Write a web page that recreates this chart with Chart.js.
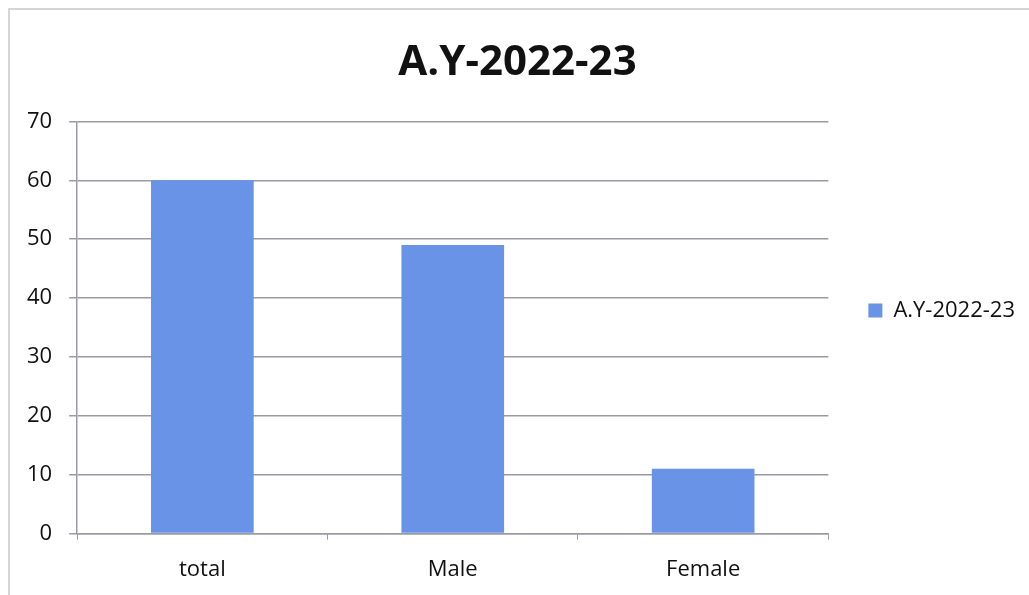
<!DOCTYPE html>
<html>
<head>
<meta charset="utf-8">
<script src="https://cdn.jsdelivr.net/npm/chart.js@4"></script>
<style>
  html, body { margin: 0; padding: 0; background: #ffffff; }
  #wrap { width: 1029px; height: 595px; position: relative; }
  canvas { display: block; }
</style>
</head>
<body>
<div id="wrap"><canvas id="c" width="1029" height="595"></canvas></div>
<script>
const chartTitle = "A.Y-2022-23";
const categories = ["total", "Male", "Female"];
const seriesName = "A.Y-2022-23";
const seriesValues = [60, 49, 11];
const yTicks = [0, 10, 20, 30, 40, 50, 60, 70];

const FONT = '"Open Sans", Lato, sans-serif';

const borderPlugin = {
  id: 'frame',
  beforeDraw(chart) {
    const ctx = chart.ctx;
    ctx.save();
    ctx.fillStyle = '#ffffff';
    ctx.fillRect(0, 0, chart.width, chart.height);
    ctx.strokeStyle = '#c8c8cc';
    ctx.lineWidth = 1.5;
    ctx.beginPath();
    ctx.moveTo(9, chart.height);
    ctx.lineTo(9, 9);
    ctx.lineTo(chart.width, 9);
    ctx.stroke();
    ctx.restore();
  }
};

new Chart(document.getElementById('c'), {
  type: 'bar',
  data: {
    labels: categories,
    datasets: [{
      label: seriesName,
      data: seriesValues,
      backgroundColor: '#6893e6',
      borderWidth: 0,
      barPercentage: 0.41,
      categoryPercentage: 1.0
    }]
  },
  options: {
    responsive: false,
    animation: false,
    devicePixelRatio: 1,
    layout: { padding: { left: 10, right: 4, top: 38, bottom: 12 } },
    plugins: {
      title: {
        display: true,
        text: chartTitle,
        color: '#111111',
        font: { family: FONT, size: 42, weight: 'bold', lineHeight: 1.2 },
        padding: { top: 0, bottom: 33 }
      },
      legend: {
        display: true,
        position: 'right',
        labels: {
          color: '#111111',
          font: { family: FONT, size: 22 },
          boxWidth: 14,
          boxHeight: 14,
          padding: 40
        }
      },
      tooltip: { enabled: false }
    },
    scales: {
      x: {
        afterFit(scale) { scale.height = scale.height - 17; },
        grid: { display: true, drawOnChartArea: false, offset: true, color: '#9a9aa6', tickLength: 6 },
        border: { color: '#9a9aa6', width: 1.5 },
        ticks: { color: '#111111', font: { family: FONT, size: 22 }, padding: 17 }
      },
      y: {
        min: 0,
        max: 70,
        afterBuildTicks(scale) { scale.ticks = yTicks.map(v => ({ value: v })); },
        grid: { color: '#9a9aa6', lineWidth: 1.5, tickLength: 8 },
        border: { color: '#9a9aa6', width: 1.5 },
        ticks: { color: '#111111', font: { family: FONT, size: 22 }, padding: 17 }
      }
    }
  },
  plugins: [borderPlugin]
});
</script>
</body>
</html>
